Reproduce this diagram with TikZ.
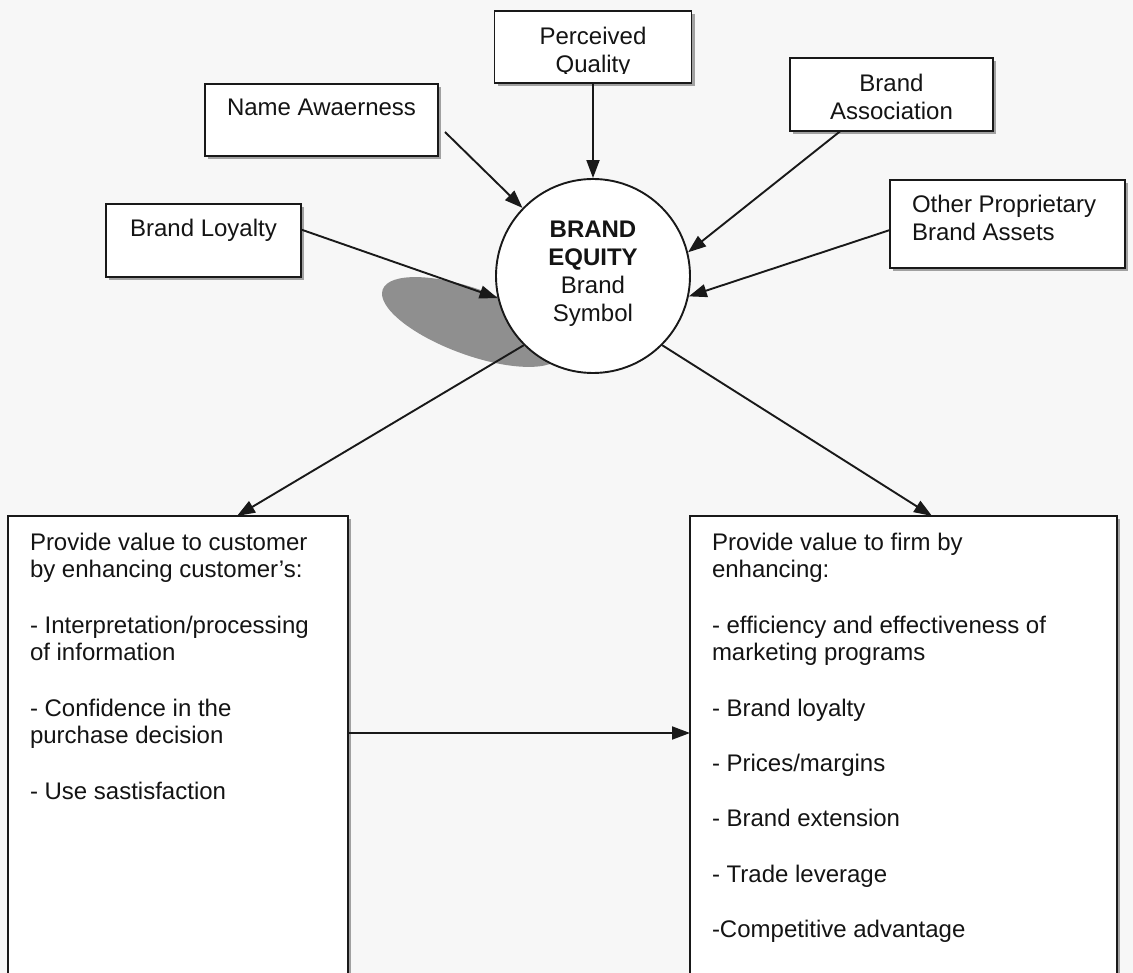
\documentclass[tikz,border=0pt]{standalone}
\usepackage{fontspec}
\setmainfont{Liberation Sans}
\usetikzlibrary{arrows.meta,shadows,calc}

\newcommand{\bodyfont}{\fontsize{24pt}{27.7pt}\selectfont}
\newcommand{\skipline}{\\[27.7pt]}

\tikzset{
  ink/.style={draw=black!90, line width=1.9pt},
  panel/.style={ink, rectangle, fill=white, inner sep=0pt, outer sep=0pt,
    anchor=north west,
    drop shadow={shadow xshift=3pt, shadow yshift=-3pt, fill=black!45, opacity=0.8}},
  tagtext/.style={inner sep=0pt, outer sep=0pt, font=\bodyfont, text=black!92},
  link/.style={ink, -{Triangle[length=18pt,width=13pt]}},
}

\begin{document}
\begin{tikzpicture}[x=1pt, y=-1pt]
  \useasboundingbox (0,0) rectangle (1133,973);
  \clip (0,0) rectangle (1133,973);
  \fill[black!3] (0,0) rectangle (1133,973);

  % grey cast shadow beside the central symbol
  \fill[black!44, shift={(472,322)}, rotate=-20] (0,0) ellipse [x radius=95pt, y radius=33pt];

  % central brand equity circle
  \node[ink, circle, fill=white, minimum size=194pt, inner sep=0pt] (eq) at (593,276) {};
  \node[tagtext, anchor=base] (eqT) at (593,238)
    {\parbox[t]{160pt}{\centering\textbf{BRAND}\\\textbf{EQUITY}\\Brand\\Symbol}};

  % source boxes
  \node[panel, minimum width=197pt, minimum height=72pt] (pq) at (494.5,11) {};
  \begin{scope}
    \clip (494.5,11) rectangle (691.5,73.2);
    \node[tagtext, anchor=base] (pqT) at (593,45)
      {\parbox[t]{190pt}{\centering Perceived\\Quality}};
  \end{scope}

  \node[panel, minimum width=233pt, minimum height=72pt] (na) at (205,84) {};
  \node[tagtext, anchor=base] (naT) at (321.5,116) {Name Awaerness};

  \node[panel, minimum width=203pt, minimum height=73pt] (ba) at (790,58) {};
  \node[tagtext, anchor=base] (baT) at (891.5,92)
    {\parbox[t]{200pt}{\centering Brand\\Association}};

  \node[panel, minimum width=235pt, minimum height=88pt] (op) at (890,180) {};
  \node[tagtext, anchor=base west] (opT) at (912,213)
    {\parbox[t]{210pt}{\raggedright Other Proprietary\\Brand Assets}};

  \node[panel, minimum width=195pt, minimum height=73pt] (bl) at (106,204) {};
  \node[tagtext, anchor=base] (blT) at (203.5,237) {Brand Loyalty};

  % value boxes
  \node[panel, minimum width=340pt, minimum height=480pt] (cust) at (8,516) {};
  \node[tagtext, anchor=base west] (custT) at (30,550)
    {\parbox[t]{315pt}{\raggedright
      Provide value to customer\\by enhancing customer's:\skipline
      - Interpretation/processing\\of information\skipline
      - Confidence in the\\purchase decision\skipline
      - Use sastisfaction}};

  \node[panel, minimum width=427pt, minimum height=480pt] (firm) at (690,516) {};
  \node[tagtext, anchor=base west] (firmT) at (712,550)
    {\parbox[t]{395pt}{\raggedright
      Provide value to firm by\\enhancing:\skipline
      - efficiency and effectiveness of\\marketing programs\skipline
      - Brand loyalty\skipline
      - Prices/margins\skipline
      - Brand extension\skipline
      - Trade leverage\skipline
      -Competitive advantage}};

  % connectors into the circle
  \draw[link] ($(na.south east)+(7,-24)$) -- (eq.136);
  \draw[link] (pq.south) -- (pq.south |- eq.north);
  \draw[link] ($(ba.south)+(-51,0)$) -- (eq.14);
  \draw[link] ($(op.west)+(0,6)$) -- (eq.-12);
  \draw[link] ($(bl.east)+(0,-11)$) -- (eq.193);

  % connectors out of the circle
  \draw[link] (eq.225) -- ($(cust.north west)+(229,0)$);
  \draw[link] (eq.-45) -- ($(firm.north west)+(242,0)$);
  \draw[link] ($(cust.north east)+(0,217)$) -- ($(firm.north west)+(0,217)$);
\end{tikzpicture}
\end{document}
